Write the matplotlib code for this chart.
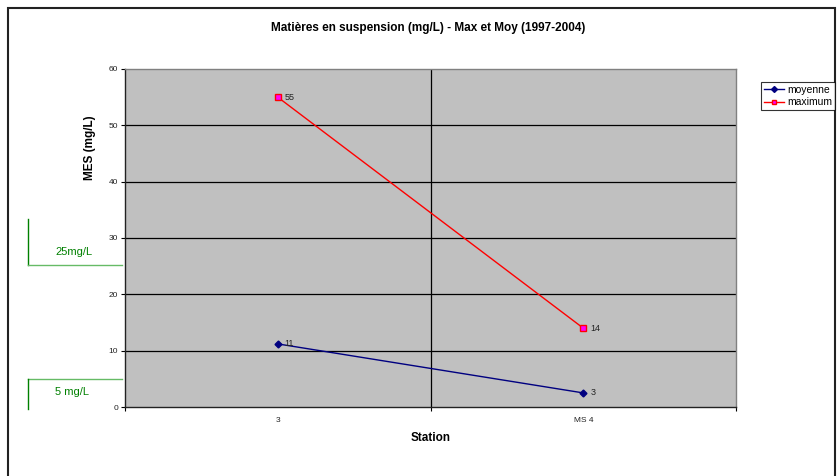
import matplotlib
matplotlib.use("Agg")
import matplotlib.pyplot as plt
from matplotlib.lines import Line2D
from matplotlib.patches import Rectangle

plt.rcParams['font.family'] = ['Liberation Sans', 'DejaVu Sans']

categories = ["3", "MS 4"]
moyenne = [11.2, 2.5]
maximum = [55, 14]
moyenne_labels = ["11", "3"]
maximum_labels = ["55", "14"]
yticks = [0, 10, 20, 30, 40, 50, 60]

W, H = 839, 476
fig = plt.figure(figsize=(W / 100, H / 100), dpi=100)

# outer chart border
fig.add_artist(Rectangle((8 / W, -0.1), (835 - 8) / W, 1.1 - 8 / H,
                         transform=fig.transFigure, fill=False,
                         edgecolor='#222222', linewidth=1.5))

ax = fig.add_axes([125 / W, 1 - 407 / H, (736 - 125) / W, (407 - 69) / H])
ax.set_facecolor('#C0C0C0')
x = [0.5, 1.5]
ax.set_xlim(0, 2)
ax.set_ylim(0, 60)

for y in yticks[1:-1]:
    ax.axhline(y, color='black', linewidth=0.9, zorder=1)
ax.axvline(1, color='black', linewidth=0.9, zorder=1)

ax.plot(x, moyenne, color='#000080', marker='D', markersize=3.5,
        linewidth=1, label='moyenne', zorder=3)
ax.plot(x, maximum, color='#FF0000', marker='s', markersize=4,
        markerfacecolor='#FF00FF', markeredgecolor='#FF0000',
        linewidth=1, label='maximum', zorder=3)

for xi, v, t in zip(x, moyenne, moyenne_labels):
    ax.annotate(t, (xi, v), xytext=(5, 0), textcoords='offset points',
                fontsize=6.5, va='center', ha='left', color='#222222')
for xi, v, t in zip(x, maximum, maximum_labels):
    ax.annotate(t, (xi, v), xytext=(5, 0), textcoords='offset points',
                fontsize=6.5, va='center', ha='left', color='#222222')

ax.set_yticks(yticks)
ax.set_yticklabels([str(v) for v in yticks], fontsize=6, color='#222222')
ax.tick_params(axis='y', length=3, width=0.8, pad=2)
ax.set_xticks(x)
ax.set_xticklabels(categories, fontsize=6, color='#222222')
ax.tick_params(axis='x', length=0, pad=7)
ax.set_xticks([0, 1, 2], minor=True)
ax.tick_params(axis='x', which='minor', length=3, width=0.8)

for s in ['top', 'right']:
    ax.spines[s].set_color('#808080')
    ax.spines[s].set_linewidth(1)
for s in ['left', 'bottom']:
    ax.spines[s].set_color('#222222')
    ax.spines[s].set_linewidth(1)

ax.set_xlabel('Station', fontsize=8.5, fontweight='bold', labelpad=6)
fig.text(90 / W, 1 - 148 / H, 'MES (mg/L)', rotation=90, ha='center', va='center',
         fontsize=8.5, fontweight='bold')

fig.text(428 / W, 1 - 28 / H, 'Matières en suspension (mg/L) - Max et Moy (1997-2004)',
         ha='center', va='center', fontsize=8.5, fontweight='bold')

leg = fig.legend(handles=[
    Line2D([], [], color='#000080', marker='D', markersize=3, linewidth=1),
    Line2D([], [], color='#FF0000', marker='s', markersize=3.5,
           markerfacecolor='#FF00FF', linewidth=1)],
    labels=['moyenne', 'maximum'],
    loc='upper left', bbox_to_anchor=(761 / W, 1 - 82 / H),
    fontsize=7.5, frameon=True, fancybox=False, handlelength=1.9,
    handletextpad=0.3, borderpad=0.3, labelspacing=0.2, borderaxespad=0)
leg.get_frame().set_edgecolor('black')
leg.get_frame().set_linewidth(0.8)

# green threshold annotations
g_dark = '#008000'
g_light = '#66BB66'
fig.add_artist(Line2D([28 / W, 28 / W], [1 - 219 / H, 1 - 265 / H], color=g_dark, linewidth=1))
fig.add_artist(Line2D([28 / W, 122 / W], [1 - 265 / H, 1 - 265 / H], color=g_light, linewidth=1))
fig.text(74 / W, 1 - 252 / H, '25mg/L', ha='center', va='center', fontsize=8, color=g_dark)
fig.add_artist(Line2D([28 / W, 122 / W], [1 - 379 / H, 1 - 379 / H], color=g_light, linewidth=1))
fig.add_artist(Line2D([28 / W, 28 / W], [1 - 379 / H, 1 - 409 / H], color=g_dark, linewidth=1))
fig.text(72 / W, 1 - 392 / H, '5 mg/L', ha='center', va='center', fontsize=8, color=g_dark)

fig.savefig('out.png', dpi=100, facecolor='white')
